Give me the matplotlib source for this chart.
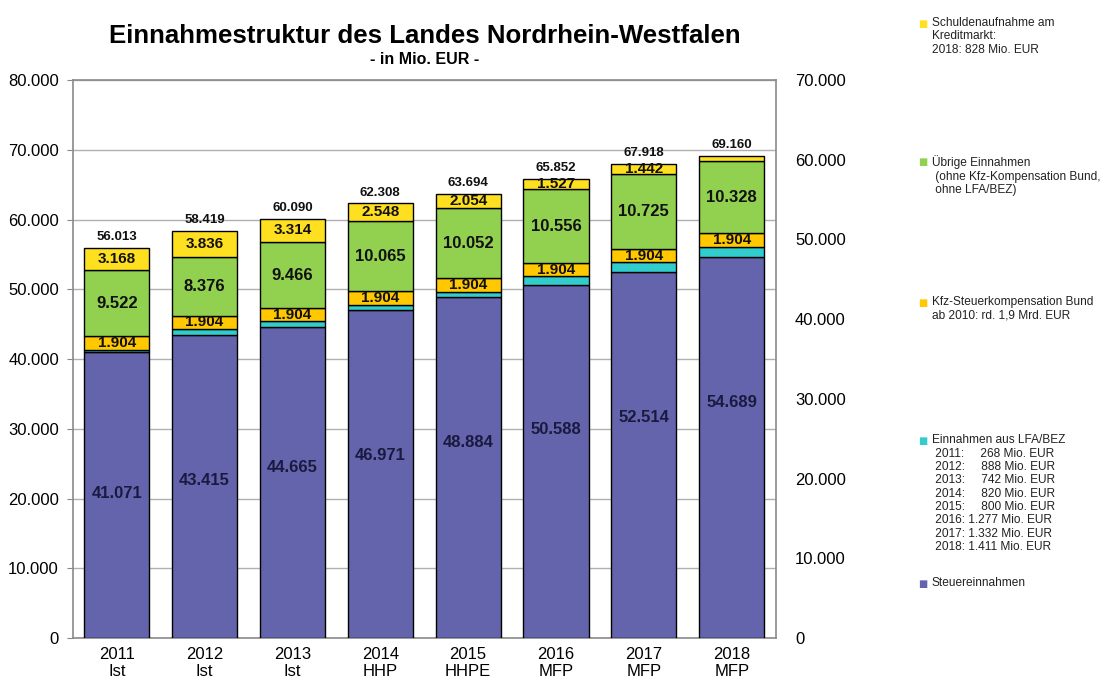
"""Einnahmestruktur NRW - stacked bar chart."""

import matplotlib.pyplot as plt
import numpy as np
from matplotlib.ticker import FuncFormatter

plt.rcParams["font.family"] = ["Liberation Sans", "DejaVu Sans"]

YEARS = ["2011\nIst", "2012\nIst", "2013\nIst", "2014\nHHP", "2015\nHHPE", "2016\nMFP", "2017\nMFP", "2018\nMFP"]
STEUER = [41071, 43415, 44665, 46971, 48884, 50588, 52514, 54689]
LFA = [268, 888, 742, 820, 800, 1277, 1332, 1411]
KFZ = [1904, 1904, 1904, 1904, 1904, 1904, 1904, 1904]
UEBRIGE = [9522, 8376, 9466, 10065, 10052, 10556, 10725, 10328]
SCHULDEN = [3168, 3836, 3314, 2548, 2054, 1527, 1442, 828]
TOTALS = [56013, 58419, 60090, 62308, 63694, 65852, 67918, 69160]

COLORS = {
    "steuer": "#6464AC",
    "lfa": "#33CCCC",
    "kfz": "#FFC800",
    "uebrige": "#92D050",
    "schulden": "#FFE020",
}

LEGEND = [
    ("schulden", "Schuldenaufnahme am\nKreditmarkt:\n2018: 828 Mio. EUR", 0.972),
    ("uebrige", "Übrige Einnahmen\n (ohne Kfz-Kompensation Bund,\n ohne LFA/BEZ)", 0.770),
    ("kfz", "Kfz-Steuerkompensation Bund\nab 2010: rd. 1,9 Mrd. EUR", 0.564),
    ("lfa", "Einnahmen aus LFA/BEZ\n 2011:     268 Mio. EUR\n 2012:     888 Mio. EUR\n"
     " 2013:     742 Mio. EUR\n 2014:     820 Mio. EUR\n 2015:     800 Mio. EUR\n"
     " 2016: 1.277 Mio. EUR\n 2017: 1.332 Mio. EUR\n 2018: 1.411 Mio. EUR", 0.362),
    ("steuer", "Steuereinnahmen", 0.153),
]


def thousands(v, _pos=None):
    return f"{int(round(v)):,}".replace(",", ".")


fig = plt.figure(figsize=(11.12, 6.84), dpi=100)
ax = fig.add_axes([0.0655, 0.067, 0.632, 0.816])
x = np.arange(len(YEARS))
width = 0.74

bottom = np.zeros(len(YEARS))
layers = [("steuer", STEUER), ("lfa", LFA), ("kfz", KFZ), ("uebrige", UEBRIGE), ("schulden", SCHULDEN)]
for key, vals in layers:
    vals = np.array(vals, dtype=float)
    ax.bar(x, vals, width, bottom=bottom, color=COLORS[key], edgecolor="black", linewidth=1.0, zorder=3)
    for i, v in enumerate(vals):
        if key in ("kfz", "uebrige") or (key == "schulden" and v > 1000):
            ax.text(x[i], bottom[i] + v / 2, thousands(v), ha="center", va="center",
                    fontsize=12 if key == "uebrige" else 11, fontweight="bold",
                    color="#111111", zorder=4)
    bottom += vals

# tax labels sit lower in the bars and climb from year to year
steuer_label_y = [20700, 22550, 24400, 26240, 28100, 29970, 31690, 33840]
for i, v in enumerate(STEUER):
    ax.text(x[i], steuer_label_y[i], thousands(v), ha="center", va="center", fontsize=12,
            fontweight="bold", color="#1a1a40", zorder=4)

for i, t in enumerate(TOTALS):
    ax.text(x[i], bottom[i] + 700, thousands(t), ha="center", va="bottom", fontsize=9.5,
            fontweight="bold", color="#111111", zorder=4)

ax.set_xlim(-0.5, len(YEARS) - 0.5)
ax.set_ylim(0, 80000)
ax.set_yticks(np.arange(0, 80001, 10000))
ax.yaxis.set_major_formatter(FuncFormatter(thousands))
ax.set_xticks(x)
ax.set_xticklabels(YEARS, fontsize=12)
ax.tick_params(axis="y", labelsize=12, length=4, color="#888888", pad=6)
ax.tick_params(axis="x", length=0, pad=6)
ax.grid(axis="y", color="#b0b0b0", linewidth=1.0, zorder=0)
for s in ax.spines.values():
    s.set_color("#8a8a8a")
    s.set_linewidth(1.2)

ax2 = ax.twinx()
ax2.set_ylim(0, 70000)
ax2.set_yticks(np.arange(0, 70001, 10000))
ax2.yaxis.set_major_formatter(FuncFormatter(thousands))
ax2.tick_params(axis="y", labelsize=12, length=0, pad=14)
for s in ax2.spines.values():
    s.set_visible(False)

fig.text(0.382, 0.947, "Einnahmestruktur des Landes Nordrhein-Westfalen", ha="center", va="center",
         fontsize=18.6, fontweight="bold")
fig.text(0.382, 0.913, "- in Mio. EUR -", ha="center", va="center", fontsize=11.5, fontweight="bold")

for key, label, ypos in LEGEND:
    fig.text(0.826, ypos, "\u25A0", ha="left", va="top", fontsize=7, color=COLORS[key],
             family=["DejaVu Sans"])
    fig.text(0.838, ypos + 0.003, label, ha="left", va="top", fontsize=8.6, linespacing=1.15,
             color="#222222")

fig.savefig("out.png", dpi=100)
